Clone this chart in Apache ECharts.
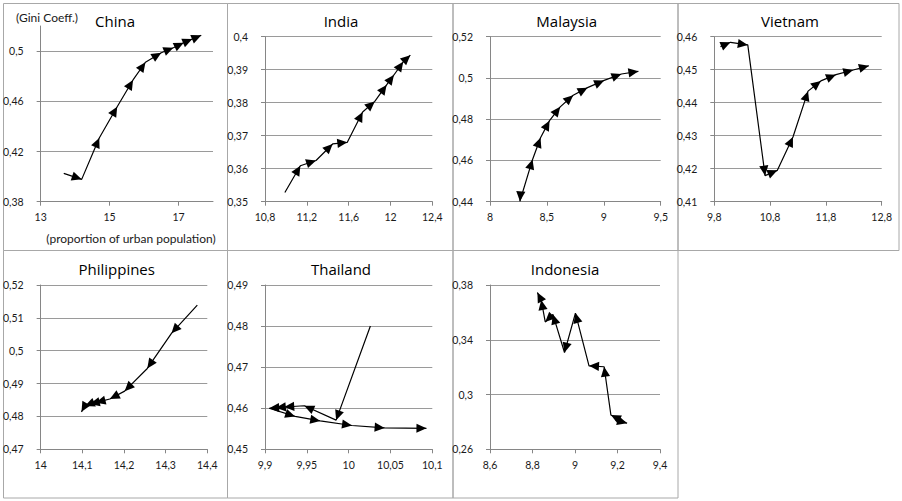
<!DOCTYPE html>
<html><head><meta charset="utf-8">
<script src="https://cdn.jsdelivr.net/npm/echarts@6/dist/echarts.min.js"></script>
<style>html,body{margin:0;padding:0;background:#fff}#c{width:902px;height:501px}</style>
</head><body><div id="c"></div>
<script>
// ---------------- DATA ----------------
const countries = ['China', 'India', 'Malaysia', 'Vietnam', 'Philippines', 'Thailand', 'Indonesia'];
const yTitle = '(Gini Coeff.)';
const xTitle = '(proportion of urban population)';

const chinaX = [13.67, 14.19, 14.70, 15.22, 15.68, 16.04, 16.50, 16.85, 17.15, 17.40, 17.66];
const chinaY = [0.4026, 0.3978, 0.4308, 0.4557, 0.4770, 0.4911, 0.4987, 0.5027, 0.5067, 0.5096, 0.5126];

const indiaX = [10.99, 11.138, 11.288, 11.447, 11.587, 11.734, 11.85, 11.963, 12.033, 12.122, 12.19];
const indiaY = [0.3528, 0.3609, 0.3625, 0.3675, 0.3680, 0.3772, 0.3804, 0.3854, 0.3884, 0.3924, 0.3944];

const malaysiaX = [8.27, 8.263, 8.374, 8.444, 8.523, 8.617, 8.731, 8.857, 9.003, 9.155, 9.304];
const malaysiaY = [0.4445, 0.4402, 0.4605, 0.4710, 0.4793, 0.4860, 0.4916, 0.4953, 0.4988, 0.5019, 0.5032];

const vietnamX = [9.91, 10.09, 10.40, 10.71, 10.93, 11.21, 11.48, 11.71, 11.98, 12.29, 12.57];
const vietnamY = [0.4570, 0.4583, 0.4575, 0.4179, 0.4195, 0.4296, 0.4435, 0.4466, 0.4485, 0.4499, 0.4512];

const philippinesX = [14.376, 14.314, 14.256, 14.2016, 14.166, 14.132, 14.118, 14.106, 14.098];
const philippinesY = [0.5139, 0.5053, 0.4946, 0.4877, 0.4853, 0.4842, 0.4838, 0.4832, 0.4814];

const thailandX = [10.026, 9.985, 9.947, 9.923, 9.913, 9.905, 9.936, 9.966, 10.004, 10.043, 10.093];
const thailandY = [0.4800, 0.4571, 0.4606, 0.4603, 0.4601, 0.4600, 0.4580, 0.4569, 0.4558, 0.4552, 0.4551];

const indonesiaX = [9.19, 9.245, 9.169, 9.137, 9.066, 9.002, 8.9506, 8.896, 8.86, 8.841, 8.823];
const indonesiaY = [0.2815, 0.2790, 0.2850, 0.3203, 0.3210, 0.3595, 0.3307, 0.3585, 0.3530, 0.3690, 0.3745];

// axis tick definitions: [min, max, interval]
const chinaXTicks = [13, 18, 2],        chinaYTicks = [0.38, 0.52, 0.04];
const indiaXTicks = [10.8, 12.4, 0.4],  indiaYTicks = [0.35, 0.40, 0.01];
const malaysiaXTicks = [8, 9.5, 0.5],   malaysiaYTicks = [0.44, 0.52, 0.02];
const vietnamXTicks = [9.8, 12.8, 1],   vietnamYTicks = [0.41, 0.46, 0.01];
const philippinesXTicks = [14, 14.4, 0.1], philippinesYTicks = [0.47, 0.52, 0.01];
const thailandXTicks = [9.9, 10.1, 0.05],  thailandYTicks = [0.45, 0.49, 0.01];
const indonesiaXTicks = [8.6, 9.4, 0.2],   indonesiaYTicks = [0.26, 0.38, 0.04];

const seriesX = [chinaX, indiaX, malaysiaX, vietnamX, philippinesX, thailandX, indonesiaX];
const seriesY = [chinaY, indiaY, malaysiaY, vietnamY, philippinesY, thailandY, indonesiaY];
const xTicks = [chinaXTicks, indiaXTicks, malaysiaXTicks, vietnamXTicks, philippinesXTicks, thailandXTicks, indonesiaXTicks];
const yTicks = [chinaYTicks, indiaYTicks, malaysiaYTicks, vietnamYTicks, philippinesYTicks, thailandYTicks, indonesiaYTicks];

// ---------------- LAYOUT ----------------
const layout = [
  {left: 40,    top: 26,   width: 173,   height: 175.7, tx: 115,   ty: 21},
  {left: 265,   top: 36.7, width: 167.3, height: 165,   tx: 341,   ty: 21},
  {left: 490,   top: 36.7, width: 170.7, height: 165,   tx: 566.7, ty: 21},
  {left: 714.3, top: 36.7, width: 167.4, height: 165,   tx: 790,   ty: 21},
  {left: 40,    top: 285,  width: 167.3, height: 164.3, tx: 116.7, ty: 268.5},
  {left: 265,   top: 285,  width: 167.3, height: 164.3, tx: 341,   ty: 268.5},
  {left: 490,   top: 285,  width: 170,   height: 164.3, tx: 565,   ty: 268.5}
];
const frames = [
  [3.5, 3.5, 224, 247], [227.5, 3.5, 225.5, 247], [453, 3.5, 225, 247], [678, 3.5, 221, 247],
  [3.5, 250.5, 224, 247.5], [227.5, 250.5, 225.5, 247.5], [453, 250.5, 225, 247.5]
];

const FONT = 'Lato, "Liberation Sans", sans-serif';
const TITLE_FONT = '"Open Sans", Lato, sans-serif';
const AXIS_COLOR = '#868686';
const GRID_COLOR = '#9a9a9a';

function fmt(v) { return String(parseFloat(Number(v).toFixed(4))).replace('.', ','); }
function onTick(v, t) { return Math.abs(Math.round((v - t[0]) / t[2]) * t[2] - (v - t[0])) < 1e-9; }

const grids = [], xAxes = [], yAxes = [], series = [], graphics = [];

countries.forEach((name, i) => {
  const L = layout[i];
  grids.push({left: L.left, top: L.top, width: L.width, height: L.height});
  const xt = xTicks[i], yt = yTicks[i];
  xAxes.push({
    gridIndex: i, type: 'value', min: xt[0], max: xt[1], interval: xt[2],
    axisLine: {show: true, onZero: false, lineStyle: {color: AXIS_COLOR, width: 1}},
    axisTick: {show: true, length: 4, lineStyle: {color: AXIS_COLOR}},
    splitLine: {show: false},
    axisLabel: {fontFamily: FONT, fontSize: 10.5, color: '#1a1a1a', margin: 10,
      showMaxLabel: onTick(xt[1], xt), formatter: fmt}
  });
  yAxes.push({
    gridIndex: i, type: 'value', min: yt[0], max: yt[1], interval: yt[2],
    axisLine: {show: true, onZero: false, lineStyle: {color: AXIS_COLOR, width: 1}},
    axisTick: {show: true, length: 4, lineStyle: {color: AXIS_COLOR}},
    splitLine: {show: true, showMaxLine: onTick(yt[1], yt), lineStyle: {color: GRID_COLOR, width: 1}},
    axisLabel: {fontFamily: FONT, fontSize: 10.5, color: '#1a1a1a', margin: 17, align: 'right',
      showMaxLabel: onTick(yt[1], yt), formatter: fmt}
  });
  const xs = seriesX[i], ys = seriesY[i];
  series.push({
    type: 'line', xAxisIndex: i, yAxisIndex: i, silent: true,
    data: xs.map((x, k) => [x, ys[k]]),
    showSymbol: false, symbol: 'none',
    lineStyle: {color: '#000', width: 1.2}, z: 3
  });
  const segs = [];
  for (let k = 1; k < xs.length; k++) segs.push([xs[k - 1], ys[k - 1], xs[k], ys[k]]);
  series.push({
    type: 'custom', xAxisIndex: i, yAxisIndex: i, silent: true, z: 4,
    encode: {x: [0, 2], y: [1, 3]},
    data: segs,
    renderItem: function (params, api) {
      const p0 = api.coord([api.value(0), api.value(1)]);
      const p1 = api.coord([api.value(2), api.value(3)]);
      const dx = p1[0] - p0[0], dy = p1[1] - p0[1];
      const len = Math.hypot(dx, dy) || 1;
      const ux = dx / len, uy = dy / len;
      const AL = 10, AW = 4.6;
      const bx = p1[0] - ux * AL, by = p1[1] - uy * AL;
      return {
        type: 'polygon',
        shape: {points: [[p1[0], p1[1]], [bx - uy * AW, by + ux * AW], [bx + uy * AW, by - ux * AW]]},
        style: {fill: '#000', stroke: null}
      };
    }
  });
  graphics.push({
    type: 'text', x: L.tx, y: L.ty, silent: true,
    style: {text: name, align: 'center', verticalAlign: 'middle',
      fontSize: 15, fontFamily: TITLE_FONT, fontWeight: 'normal', fill: '#000'}
  });
});

frames.forEach(f => {
  graphics.push({type: 'rect', silent: true, z: -1,
    shape: {x: f[0], y: f[1], width: f[2], height: f[3]},
    style: {fill: 'none', stroke: '#a8a8a8', lineWidth: 1}});
});
graphics.push({type: 'text', x: 47, y: 17, silent: true,
  style: {text: yTitle, align: 'center', verticalAlign: 'middle',
    fontSize: 12, fontFamily: FONT, fontWeight: 'normal', fill: '#1a1a1a'}});
graphics.push({type: 'text', x: 131, y: 238, silent: true,
  style: {text: xTitle, align: 'center', verticalAlign: 'middle',
    fontSize: 12, fontFamily: FONT, fontWeight: 'normal', fill: '#1a1a1a'}});

const chart = echarts.init(document.getElementById('c'), null, {renderer: 'svg'});
chart.setOption({
  animation: false,
  backgroundColor: '#fff',
  grid: grids, xAxis: xAxes, yAxis: yAxes, series: series,
  graphic: graphics
});
</script></body></html>
